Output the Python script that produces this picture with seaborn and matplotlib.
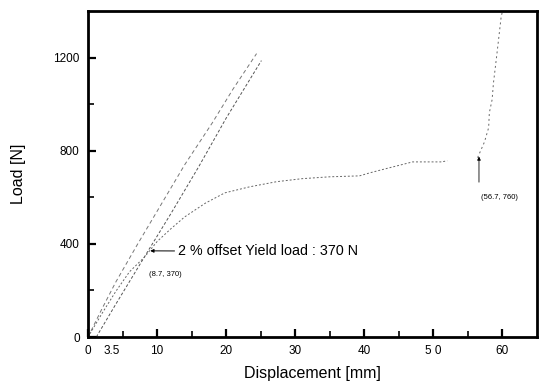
import numpy as np
import pandas as pd
import matplotlib
matplotlib.use("Agg")
import matplotlib.pyplot as plt
import seaborn as sns

# ---- data ----
elastic_x = [0, 2, 4, 7.2, 10, 14, 18, 21, 24.4]
elastic_y = [0, 120, 235, 400, 540, 740, 920, 1065, 1217]

offset_x = [1.2, 4, 8.7, 12, 16, 20, 25.1]
offset_y = [0, 140, 370, 530, 730, 940, 1187]

load_x = [0, 2, 4, 6, 8.2, 10, 12, 14, 17, 19.8, 23.4, 27.3, 31, 35, 39.3,
          40.8, 43.4, 47, 51.2, 52]
load_y = [0, 100, 195, 280, 344, 410, 465, 516, 575, 619, 645, 667, 680, 688,
          692, 705, 725, 752, 752, 757]

rise_x = [56.4, 57.4, 58, 58.1, 58.5, 58.7, 59.1, 59.4, 59.8, 60]
rise_y = [770, 838, 899, 963, 1019, 1092, 1191, 1268, 1372, 1400]

x_ticks = [0, 3.5, 10, 20, 30, 40, 50, 60]
x_tick_labels = ["0", "3.5", "10", "20", "30", "40", "5 0", "60"]
y_ticks = [0, 400, 800, 1200]
y_tick_labels = ["0", "400", "800", "1200"]

yield_point = (8.7, 370)
break_point = (56.7, 760)

sns.set_style("ticks")
plt.rcParams["font.family"] = ["Liberation Sans", "DejaVu Sans"]
plt.rcParams["text.color"] = "black"
plt.rcParams["axes.labelcolor"] = "black"
plt.rcParams["xtick.color"] = "black"
plt.rcParams["ytick.color"] = "black"

fig = plt.figure(figsize=(5.41, 3.86), dpi=100)
ax = fig.add_axes([0.1627, 0.1269, 0.8299, 0.8446])

df_el = pd.DataFrame({"x": elastic_x, "y": elastic_y})
df_of = pd.DataFrame({"x": offset_x, "y": offset_y})
df_ld = pd.DataFrame({"x": load_x, "y": load_y})
df_rs = pd.DataFrame({"x": rise_x, "y": rise_y})

sns.lineplot(data=df_el, x="x", y="y", ax=ax, sort=False, color="#777777",
             lw=0.7, linestyle=(0, (4, 3)))
sns.lineplot(data=df_of, x="x", y="y", ax=ax, sort=False, color="#555555",
             lw=0.7, linestyle=(0, (3, 2)))
sns.lineplot(data=df_ld, x="x", y="y", ax=ax, sort=False, color="#666666",
             lw=0.7, linestyle=(0, (2, 2)))
sns.lineplot(data=df_rs, x="x", y="y", ax=ax, sort=False, color="#666666",
             lw=0.7, linestyle=(0, (2, 3)))

ax.set_xlim(0, 65)
ax.set_ylim(0, 1400)
ax.set_xticks(x_ticks)
ax.set_xticklabels(x_tick_labels, fontsize=8.5)
ax.set_yticks(y_ticks)
ax.set_yticklabels(y_tick_labels, fontsize=8.5)
ax.set_xticks([5, 15, 25, 35, 45, 55], minor=True)
ax.set_yticks([200, 600, 1000], minor=True)
ax.tick_params(which="major", direction="in", length=6, width=1.6, pad=6)
ax.tick_params(which="minor", direction="in", length=4, width=1.2)
# label 3.5 has no tick mark
ax.xaxis.get_major_ticks()[1].tick1line.set_visible(False)

for s in ax.spines.values():
    s.set_linewidth(2)
    s.set_color("black")

ax.set_xlabel("Displacement [mm]", fontsize=11.5, labelpad=6)
ax.set_ylabel("Load [N]", fontsize=11.5, labelpad=20)

ax.annotate("2 % offset Yield load : 370 N", xy=(yield_point[0] + 0.3, yield_point[1]),
            xytext=(13, 368), fontsize=10.3, va="center", ha="left",
            arrowprops=dict(arrowstyle="-|>", color="black", lw=0.7,
                            mutation_scale=5, shrinkA=0, shrinkB=0))
ax.text(8.8, 268, "(8.7, 370)", fontsize=5.5, ha="left", va="center")

ax.annotate("", xy=(break_point[0] - 0.1, 775), xytext=(break_point[0] - 0.1, 665),
            arrowprops=dict(arrowstyle="-|>", color="black", lw=0.6,
                            mutation_scale=5, shrinkA=0, shrinkB=0))
ax.text(59.6, 600, "(56.7, 760)", fontsize=5.5, ha="center", va="center")

fig.savefig("out.png", dpi=100)
